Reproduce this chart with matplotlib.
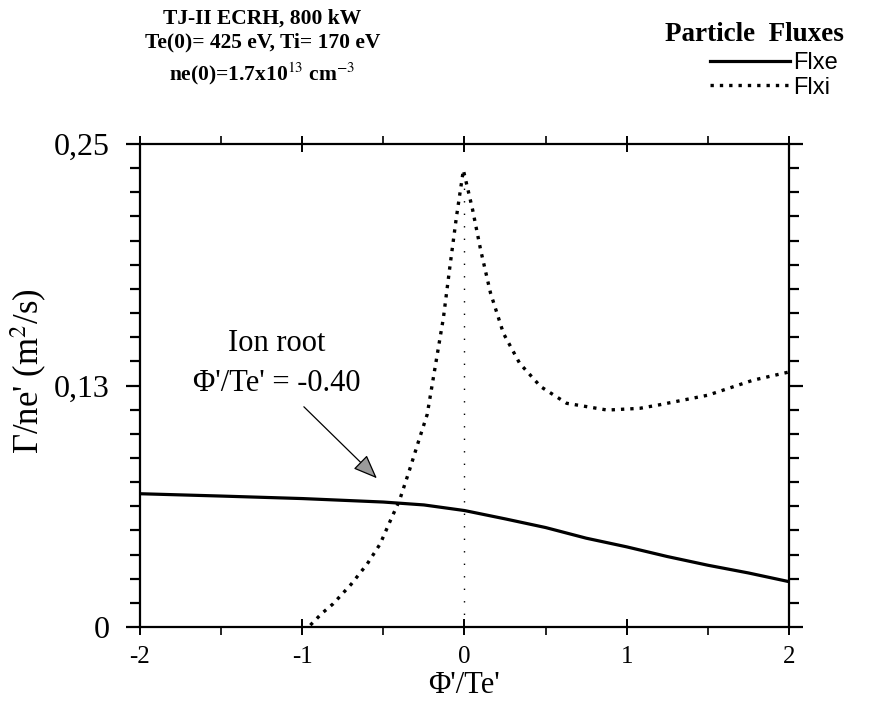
import matplotlib
matplotlib.use('Agg')
import matplotlib.pyplot as plt
from matplotlib.ticker import FixedLocator, MultipleLocator

# data
phi_e = [-2.0, -1.5, -1.0, -0.5, -0.25, 0.0, 0.25, 0.5, 0.75, 1.0, 1.25, 1.5, 1.75, 2.0]
flxe = [0.069, 0.0678, 0.0665, 0.0647, 0.0632, 0.0603, 0.0560, 0.0515, 0.0460, 0.0415, 0.0365, 0.0320, 0.0280, 0.0235]

phi_i = [-0.95, -0.88, -0.81, -0.70, -0.60, -0.52, -0.46, -0.40, -0.34, -0.28, -0.23, -0.18,
         -0.13, -0.09, -0.05, -0.007, 0.05, 0.10, 0.16, 0.24, 0.34, 0.47, 0.63, 0.88, 1.08, 1.2, 1.5, 1.78, 2.0]
flxi = [0.001, 0.007, 0.012, 0.022, 0.0326, 0.043, 0.0545, 0.0657, 0.081, 0.097, 0.110, 0.135,
        0.160, 0.1865, 0.212, 0.2365, 0.216, 0.195, 0.173, 0.152, 0.1365, 0.1244, 0.1158, 0.1123, 0.1132, 0.115, 0.120, 0.1278, 0.132]

yticks = [0, 0.125, 0.25]
ytick_labels = ['0', '0,13', '0,25']
xticks = [-2, -1, 0, 1, 2]

plt.rcParams['font.family'] = 'Liberation Serif'
plt.rcParams['mathtext.fontset'] = 'stix'
plt.rcParams['axes.unicode_minus'] = False

fig = plt.figure(figsize=(8.75, 7.15), dpi=100)
ax = fig.add_axes([0.16, 0.123, 0.7417, 0.6756])

ax.plot(phi_e, flxe, color='black', linewidth=2.3, label='Flxe')
ax.plot(phi_i, flxi, color='black', linewidth=2.4, linestyle=(0, (1, 1.8)), label='Flxi')
ax.plot([0, 0], [0, 0.232], color='black', linewidth=1.0, linestyle=(0, (1, 8)))

ax.set_xlim(-2, 2)
ax.set_ylim(0, 0.25)

ax.xaxis.set_major_locator(FixedLocator(xticks))
ax.xaxis.set_minor_locator(MultipleLocator(0.5))
ax.yaxis.set_major_locator(FixedLocator(yticks))
ax.yaxis.set_minor_locator(MultipleLocator(0.0125))
ax.set_yticklabels(ytick_labels)

for s in ax.spines.values():
    s.set_linewidth(1.6)

ax.tick_params(axis='y', which='major', direction='out', length=10, width=1.6,
               labelsize=23, right=True, pad=12)
ax.tick_params(axis='y', which='minor', direction='out', length=7, width=1.6, right=True)
ax.tick_params(axis='x', which='major', direction='inout', length=12, width=1.4,
               labelsize=18, top=True, pad=8)
ax.tick_params(axis='x', which='minor', direction='out', length=6, width=1.2, top=True)

ax.set_xlabel("\u03a6'/Te'", fontsize=22, labelpad=2)
ax.set_ylabel("\u0393/ne' (m$^2$/s)", fontsize=25)
ax.yaxis.set_label_coords(-0.14, 0.53)

# annotation
ax.text(-1.16, 0.147, 'Ion root', fontsize=22, ha='center', va='center')
ax.text(-1.16, 0.126, "\u03a6'/Te' = -0.40", fontsize=22, ha='center', va='center')
ax.annotate('', xy=(-0.54, 0.077), xytext=(-0.99, 0.114),
            arrowprops=dict(arrowstyle='-|>,head_length=1.5,head_width=0.6', ec='black',
                            fc='#9a9a9a', linewidth=0.9, shrinkA=0, shrinkB=0))

# title block
fig.text(0.3, 0.974, 'TJ-II ECRH, 800 kW', fontsize=15.5, ha='center', va='center', weight='bold')
fig.text(0.3, 0.940, 'Te(0)= 425 eV, Ti= 170 eV', fontsize=15.5, ha='center', va='center', weight='bold')
fig.text(0.3, 0.897, 'ne(0)=1.7x10$^{13}$ cm$^{-3}$', fontsize=15.5, ha='center', va='center', weight='bold')

fig.text(0.862, 0.952, 'Particle  Fluxes', fontsize=19.5, ha='center', va='center', weight='bold')
fig.legend(loc='upper right', bbox_to_anchor=(0.968, 0.94), frameon=False,
           prop={'family': 'Liberation Sans', 'size': 17}, handlelength=3.4,
           handletextpad=0.1, labelspacing=0.1, borderaxespad=0)

fig.savefig('out.png', dpi=100)
